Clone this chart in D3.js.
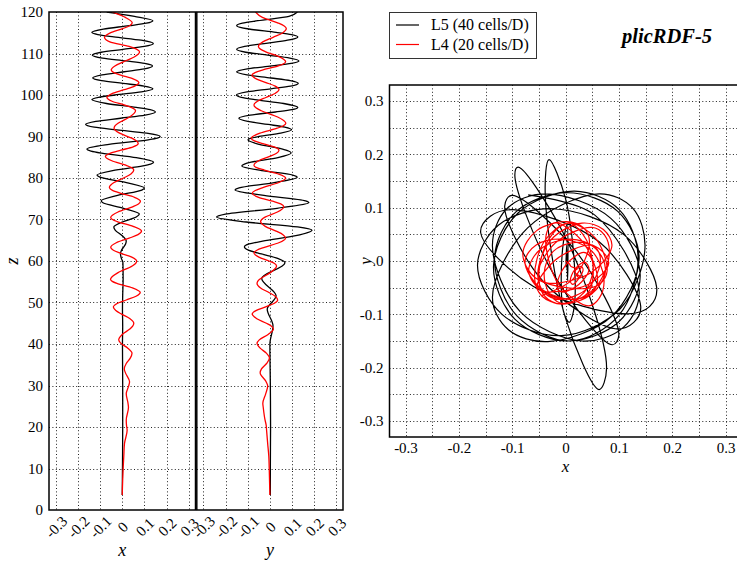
<!DOCTYPE html>
<html>
<head>
<meta charset="utf-8">
<script src="https://cdn.jsdelivr.net/npm/d3@7"></script>
<style>
  html, body { margin: 0; padding: 0; background: #fff; }
  svg text { font-family: "Liberation Serif", "Times New Roman", serif; }
</style>
</head>
<body>
<script>
// Jet axis trajectory: lateral position x(z), y(z) for two grid levels
const seriesNames = ["L5 (40 cells/D)", "L4 (20 cells/D)"];
const seriesColors = ["#000000", "#ff0000"];

// L5 (40 cells/D)
const zL5 = [120.0, 118.95, 117.9, 117.3, 116.7, 115.9, 115.1, 114.55, 114.0, 113.2,
  112.4, 111.7, 111.0, 110.3, 109.6, 108.9, 108.2, 107.6, 107.0, 106.3,
  105.6, 104.85, 104.1, 103.45, 102.8, 102.15, 101.5, 100.75, 100.0, 99.45,
  98.9, 97.95, 97.0, 96.45, 95.9, 95.15, 94.4, 93.65, 92.9, 92.25,
  91.6, 90.8, 90.0, 89.6, 89.2, 88.1, 87.0, 86.5, 86.0, 84.9,
  83.8, 83.35, 82.9, 81.8, 80.7, 80.2, 78.9, 77.6, 77.1, 75.8,
  74.5, 74.1, 72.7, 71.3, 70.6, 69.4, 68.2, 67.4, 66.1, 64.8,
  64.1, 63.4, 62.55, 61.7, 60.65, 59.6, 55.8, 51.6, 48.4, 44.4,
  40.0, 30.0, 20.0, 10.0, 3.6];
const xL5 = [-0.070, 0.055, 0.138, 0.109, 0.031, -0.085, -0.137, -0.110, -0.038, 0.085,
  0.140, 0.100, 0.003, -0.095, -0.135, -0.089, 0.017, 0.101, 0.136, 0.100,
  0.009, -0.091, -0.133, -0.093, 0.003, 0.098, 0.138, 0.086, -0.033, -0.107,
  -0.137, -0.071, 0.063, 0.126, 0.149, 0.103, -0.008, -0.119, -0.165, -0.126,
  -0.024, 0.110, 0.171, 0.158, 0.117, -0.060, -0.159, -0.141, -0.093, 0.063,
  0.141, 0.128, 0.093, -0.043, -0.114, -0.101, 0.019, 0.100, 0.088, -0.021,
  -0.095, -0.089, 0.006, 0.077, 0.063, 0.000, -0.038, -0.031, 0.000, 0.018,
  0.015, 0.007, -0.004, -0.008, -0.004, 0.003, 0.004, 0.002, 0.001, 0.002,
  0.001, 0.002, 0.002, 0.001, 0.000];
const yL5 = [0.124, 0.086, -0.055, -0.124, -0.150, -0.095, 0.028, 0.098, 0.126, 0.080,
  -0.026, -0.114, -0.150, -0.109, -0.010, 0.090, 0.131, 0.096, 0.008, -0.102,
  -0.150, -0.103, 0.005, 0.092, 0.128, 0.093, 0.004, -0.104, -0.151, -0.129,
  -0.068, 0.062, 0.126, 0.099, 0.025, -0.089, -0.140, -0.100, -0.008, 0.067,
  0.098, 0.049, -0.050, -0.085, -0.099, -0.048, 0.053, 0.084, 0.096, 0.036,
  -0.085, -0.115, -0.127, -0.037, 0.103, 0.123, 0.019, -0.139, -0.157, -0.027,
  0.161, 0.176, 0.032, -0.201, -0.241, -0.107, 0.125, 0.190, 0.117, -0.033,
  -0.094, -0.115, -0.094, -0.038, 0.035, 0.068, -0.037, 0.028, -0.012, 0.014,
  0.000, 0.002, 0.003, 0.002, 0.002];

// L4 (20 cells/D)
const zL4 = [120.0, 118.7, 117.4, 116.7, 116.0, 114.95, 113.9, 112.8, 111.7, 111.05,
  110.4, 109.2, 108.0, 107.0, 106.0, 105.4, 104.8, 103.9, 103.0, 102.15,
  101.3, 100.35, 99.4, 98.5, 97.6, 96.9, 96.2, 94.7, 93.2, 92.6,
  92.0, 90.8, 89.6, 88.95, 88.3, 87.5, 86.7, 85.95, 85.2, 84.15,
  83.1, 82.5, 81.9, 80.95, 80.0, 78.85, 77.7, 77.0, 76.3, 75.35,
  74.4, 73.75, 73.1, 71.8, 70.5, 70.0, 69.5, 68.35, 67.2, 66.35,
  65.5, 64.4, 63.3, 62.6, 61.9, 60.95, 60.0, 59.4, 58.8, 57.2,
  55.6, 55.1, 54.6, 53.5, 52.4, 51.5, 50.6, 49.75, 48.9, 48.05,
  47.2, 46.1, 45.0, 44.3, 43.6, 42.3, 41.0, 40.2, 39.0, 37.8,
  36.6, 35.3, 34.0, 33.1, 30.9, 29.9, 28.0, 25.7, 24.7, 21.7,
  20.5, 19.2, 16.0, 13.0, 10.0, 3.6];
const xL4 = [-0.045, 0.014, 0.045, 0.033, 0.002, -0.054, -0.080, -0.056, 0.031, 0.064,
  0.078, 0.056, 0.005, -0.033, -0.050, -0.038, -0.007, 0.049, 0.075, 0.056,
  0.009, -0.046, -0.069, -0.046, 0.008, 0.045, 0.060, 0.033, -0.019, -0.032,
  -0.037, -0.012, 0.043, 0.063, 0.072, 0.049, -0.006, -0.055, -0.076, -0.047,
  0.016, 0.042, 0.052, 0.039, 0.006, -0.039, -0.058, -0.044, -0.006, 0.055,
  0.082, 0.073, 0.049, -0.019, -0.052, -0.044, -0.023, 0.049, 0.087, 0.071,
  0.031, -0.027, -0.052, -0.040, -0.009, 0.043, 0.065, 0.060, 0.045, -0.019,
  -0.053, -0.045, -0.024, 0.046, 0.081, 0.062, 0.018, -0.023, -0.040, -0.029,
  -0.003, 0.035, 0.052, 0.047, 0.034, 0.000, -0.016, -0.007, 0.025, 0.044,
  0.036, 0.018, 0.009, 0.014, 0.033, 0.029, 0.018, 0.026, 0.028, 0.018,
  0.019, 0.022, 0.010, 0.007, 0.004, 0.000];
const yL4 = [-0.065, -0.034, 0.035, 0.063, 0.074, 0.057, 0.014, -0.032, -0.052, -0.043,
  -0.019, 0.043, 0.071, 0.038, -0.034, -0.067, -0.081, -0.062, -0.018, 0.024,
  0.041, 0.023, -0.018, -0.056, -0.072, -0.063, -0.039, 0.035, 0.072, 0.061,
  0.033, -0.045, -0.084, -0.070, -0.032, 0.019, 0.041, 0.030, -0.001, -0.051,
  -0.072, -0.060, -0.025, 0.040, 0.071, 0.038, -0.032, -0.066, -0.080, -0.051,
  0.012, 0.049, 0.063, 0.034, -0.024, -0.037, -0.042, -0.021, 0.028, 0.059,
  0.071, 0.040, -0.025, -0.059, -0.072, -0.050, -0.004, 0.021, 0.030, 0.002,
  -0.046, -0.055, -0.058, -0.042, -0.004, 0.024, 0.035, 0.018, -0.022, -0.063,
  -0.080, -0.059, -0.016, 0.007, 0.016, -0.008, -0.048, -0.058, -0.044, -0.016,
  -0.002, -0.015, -0.038, -0.044, -0.017, -0.010, -0.019, -0.032, -0.030, -0.022,
  -0.017, -0.015, -0.010, -0.005, -0.003, 0.000];

const zTicks = [0, 10, 20, 30, 40, 50, 60, 70, 80, 90, 100, 110, 120];
const posTicks = [-0.3, -0.2, -0.1, 0, 0.1, 0.2, 0.3];
const gridFine = [-0.3, -0.25, -0.2, -0.15, -0.1, -0.05, 0, 0.05, 0.1, 0.15, 0.2, 0.25, 0.3];
const titleText = "plicRDF-5";

const FONT = "Liberation Serif";
const W = 737, H = 564;
const svg = d3.select("body").append("svg").attr("width", W).attr("height", H)
  .attr("font-family", FONT);

const fmt = v => (Math.abs(v) < 1e-9 ? "0" : String(+v.toFixed(2)));
const series = [
  { z: zL5, x: xL5, y: yL5, color: seriesColors[0], name: seriesNames[0] },
  { z: zL4, x: xL4, y: yL4, color: seriesColors[1], name: seriesNames[1] }
];

// ---------- left: x(z) and y(z) panels ----------
const zScale = d3.scaleLinear().domain([0, 120]).range([510, 12]);
const xPanel = d3.scaleLinear().domain([-0.33, 0.33]).range([49, 195.5]);
const yPanel = d3.scaleLinear().domain([-0.33, 0.33]).range([196.8, 343]);

const defs = svg.append("defs");
function clip(id, x0, y0, x1, y1) {
  defs.append("clipPath").attr("id", id).append("rect")
    .attr("x", x0).attr("y", y0).attr("width", x1 - x0).attr("height", y1 - y0);
}

function gridLine(g, x1, y1, x2, y2) {
  g.append("line").attr("x1", x1).attr("y1", y1).attr("x2", x2).attr("y2", y2)
    .attr("stroke", "#222").attr("stroke-width", 1).attr("stroke-dasharray", "1,2.4");
}

function styleAxis(ax) {
  ax.attr("font-family", FONT).attr("font-size", 15);
  ax.select(".domain").remove();
  ax.selectAll("text").attr("font-family", FONT).attr("font-size", 15).attr("fill", "#000");
}

const panels = [
  { scale: xPanel, key: "x", label: "x", id: "clipX" },
  { scale: yPanel, key: "y", label: "y", id: "clipY" }
];

panels.forEach(p => {
  const [r0, r1] = p.scale.range();
  clip(p.id, r0, 12, r1, 510);
  const grid = svg.append("g");
  posTicks.forEach(v => gridLine(grid, Math.round(p.scale(v)) + 0.5, 12, Math.round(p.scale(v)) + 0.5, 510));
  zTicks.slice(1, -1).forEach(v => gridLine(grid, r0, Math.round(zScale(v)) + 0.5, r1, Math.round(zScale(v)) + 0.5));

  const lines = svg.append("g").attr("clip-path", `url(#${p.id})`);
  series.forEach(s => {
    const line = d3.line().curve(d3.curveMonotoneY)
      .x((d, i) => p.scale(s[p.key][i]))
      .y((d, i) => zScale(s.z[i]));
    lines.append("path").datum(s.z).attr("d", line)
      .attr("fill", "none").attr("stroke", s.color).attr("stroke-width", 1.3);
  });

  svg.append("rect").attr("x", r0).attr("y", 12).attr("width", r1 - r0).attr("height", 498)
    .attr("fill", "none").attr("stroke", "#000").attr("stroke-width", 1.5);

  const ax = svg.append("g").attr("transform", "translate(0,510)")
    .call(d3.axisBottom(p.scale).tickValues(posTicks).tickFormat(fmt).tickSize(0));
  styleAxis(ax);
  ax.selectAll("text")
    .attr("y", 0).attr("dy", "0.35em")
    .attr("transform", "translate(0,17) rotate(-45)")
    .attr("text-anchor", "middle");

  svg.append("text").attr("x", (r0 + r1) / 2).attr("y", 556)
    .attr("text-anchor", "middle").attr("font-style", "italic").attr("font-size", 18)
    .text(p.label);
});

const zAxis = svg.append("g").attr("transform", "translate(49,0)")
  .call(d3.axisLeft(zScale).tickValues(zTicks).tickSize(0).tickPadding(6));
styleAxis(zAxis);

svg.append("text").attr("transform", "translate(18,261) rotate(-90)")
  .attr("text-anchor", "middle").attr("font-style", "italic").attr("font-size", 18).text("z");

// ---------- right: cross-section trajectory y vs x ----------
const xr = d3.scaleLinear().domain([-0.33, 0.33]).range([389.5, 741.5]);
const yr = d3.scaleLinear().domain([-0.33, 0.33]).range([437, 85]);
clip("clipXY", 389.5, 85, 741.5, 437);

const gridR = svg.append("g");
gridFine.forEach(v => {
  gridLine(gridR, Math.round(xr(v)) + 0.5, 85, Math.round(xr(v)) + 0.5, 437);
  gridLine(gridR, 389.5, Math.round(yr(v)) + 0.5, 741.5, Math.round(yr(v)) + 0.5);
});

const linesR = svg.append("g").attr("clip-path", "url(#clipXY)");
series.forEach(s => {
  const line = d3.line().curve(d3.curveCatmullRom.alpha(0.5))
    .x((d, i) => xr(s.x[i]))
    .y((d, i) => yr(s.y[i]));
  linesR.append("path").datum(s.z).attr("d", line)
    .attr("fill", "none").attr("stroke", s.color).attr("stroke-width", 1.2);
});

svg.append("rect").attr("x", 389.5).attr("y", 85).attr("width", 352).attr("height", 352)
  .attr("fill", "none").attr("stroke", "#000").attr("stroke-width", 1.5);

const axB = svg.append("g").attr("transform", "translate(0,437)")
  .call(d3.axisBottom(xr).tickValues(posTicks).tickFormat(fmt).tickSize(0).tickPadding(5));
styleAxis(axB);

const axL = svg.append("g").attr("transform", "translate(389.5,0)")
  .call(d3.axisLeft(yr).tickValues(posTicks).tickFormat(fmt).tickSize(0).tickPadding(6));
styleAxis(axL);

svg.append("text").attr("x", xr(0)).attr("y", 472)
  .attr("text-anchor", "middle").attr("font-style", "italic").attr("font-size", 17).text("x");
svg.append("text").attr("transform", `translate(371,${yr(0)}) rotate(-90)`)
  .attr("text-anchor", "middle").attr("font-style", "italic").attr("font-size", 17).text("y");

// ---------- legend and title ----------
const leg = svg.append("g");
leg.append("rect").attr("x", 389.5).attr("y", 12.5).attr("width", 147).attr("height", 46)
  .attr("fill", "#fff").attr("stroke", "#333").attr("stroke-width", 1);
series.forEach((s, i) => {
  const yy = 25 + i * 19.5;
  leg.append("line").attr("x1", 396).attr("x2", 419).attr("y1", yy).attr("y2", yy)
    .attr("stroke", s.color).attr("stroke-width", 1.2);
  leg.append("text").attr("x", 431).attr("y", yy + 5).attr("font-size", 16).text(s.name);
});

svg.append("text").attr("x", 622).attr("y", 43)
  .attr("font-weight", "bold").attr("font-style", "italic").attr("font-size", 20.5)
  .text(titleText);
</script>
</body>
</html>
